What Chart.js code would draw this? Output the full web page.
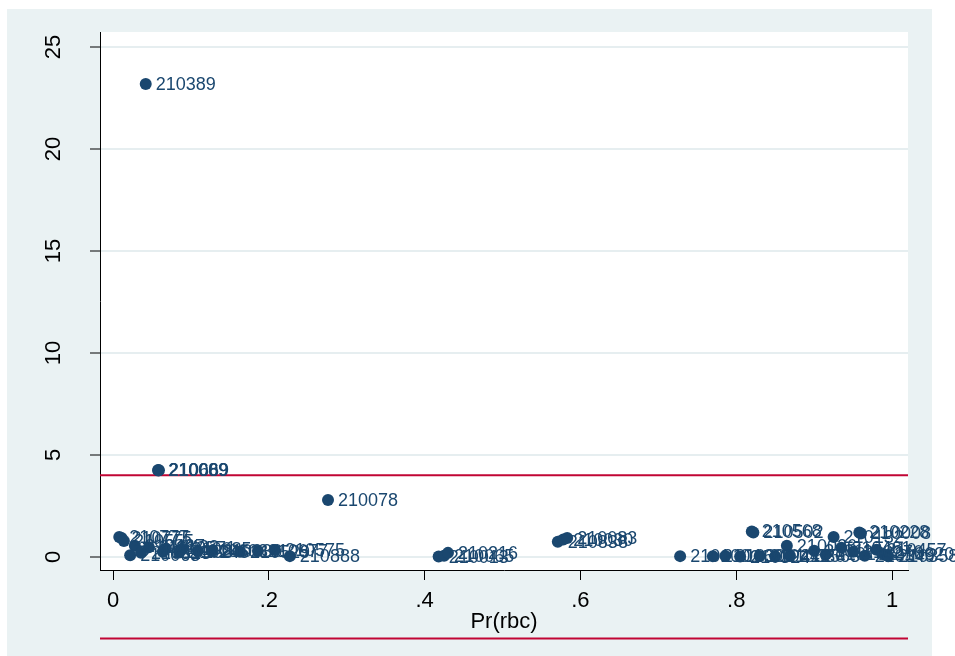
<!DOCTYPE html>
<html>
<head>
<meta charset="utf-8">
<title>Pr(rbc) scatter</title>
<script src="https://cdn.jsdelivr.net/npm/chart.js@4.4.0/dist/chart.umd.min.js"></script>
<style>
    html, body { margin: 0; padding: 0; background: #fff; }
    #wrap { width: 955px; height: 656px; }
</style>
</head>
<body>
<div id="wrap"><canvas id="scatterChart" width="955" height="656"></canvas></div>
<script>
// 数据：每个点的编号、Pr(rbc) 以及纵轴数值
const pointIds = [
    '210389', '210009', '210089', '210669', '210078',
    '210777', '210775', '210555', '210467', '210433', '210571', '210685',
    '210063', '210313', '210188', '210245', '210603', '210336', '210529', '210677', '210575', '210888',
    '210013', '210065', '210216',
    '210838', '210030', '210083',
    '210100', '210160', '210301', '210324', '210441', '210530', '210563',
    '210568', '210502', '210026', '210132', '210228', '210008',
    '210114', '210102', '210461', '210276', '210349', '210457', '210620', '210358'
];
const prRbc = [
    0.042, 0.058, 0.058, 0.059, 0.276,
    0.008, 0.011, 0.014, 0.028, 0.046, 0.068, 0.088,
    0.022, 0.036, 0.064, 0.085, 0.109, 0.127, 0.163, 0.186, 0.208, 0.227,
    0.418, 0.425, 0.430,
    0.571, 0.578, 0.583,
    0.728, 0.770, 0.786, 0.805, 0.830, 0.850, 0.869,
    0.820, 0.822, 0.865, 0.925, 0.958, 0.960,
    0.900, 0.915, 0.935, 0.950, 0.965, 0.980, 0.990, 0.995
];
const yValues = [
    23.19, 4.26, 4.24, 4.25, 2.79,
    0.98, 0.93, 0.78, 0.55, 0.48, 0.42, 0.38,
    0.08, 0.20, 0.25, 0.22, 0.29, 0.30, 0.25, 0.29, 0.34, 0.04,
    0.02, 0.06, 0.20,
    0.75, 0.85, 0.93,
    0.04, 0.03, 0.05, 0.02, 0.05, 0.03, 0.06,
    1.25, 1.20, 0.55, 0.98, 1.20, 1.15,
    0.30, 0.12, 0.45, 0.25, 0.06, 0.35, 0.12, 0.03
];

// 坐标轴刻度
const xTickValues = [0, 0.2, 0.4, 0.6, 0.8, 1];
const xTickLabels = ['0', '.2', '.4', '.6', '.8', '1'];
const yTickValues = [0, 5, 10, 15, 20, 25];
const yTickLabels = ['0', '5', '10', '15', '20', '25'];
// 参考线 (yline)
const refLines = [4, -4];

document.addEventListener('DOMContentLoaded', function() {
    const NAVY = '#1a476f';
    const FONT = "'Liberation Sans', Arial, sans-serif";

    // 背景：外框浅蓝灰，绘图区白色
    const backgroundPlugin = {
        id: 'stataBackground',
        beforeDraw(chart) {
            const { ctx, chartArea } = chart;
            ctx.save();
            ctx.fillStyle = '#ffffff';
            ctx.fillRect(0, 0, chart.width, chart.height);
            ctx.fillStyle = '#eaf2f3';
            ctx.fillRect(7, 9, 925, 647);
            ctx.fillStyle = '#ffffff';
            ctx.fillRect(chartArea.left, chartArea.top, chartArea.right - chartArea.left, chartArea.bottom - chartArea.top);
            ctx.restore();
        }
    };

    // 红色参考线，不裁剪（Stata 会画到绘图区外）
    const refLinePlugin = {
        id: 'refLines',
        beforeDatasetsDraw(chart) {
            const { ctx, chartArea, scales } = chart;
            ctx.save();
            ctx.strokeStyle = '#c10534';
            ctx.lineWidth = 2;
            refLines.forEach(function(v) {
                const y = scales.y.getPixelForValue(v);
                ctx.beginPath();
                ctx.moveTo(chartArea.left, y);
                ctx.lineTo(chartArea.right, y);
                ctx.stroke();
            });
            ctx.restore();
        }
    };

    // 点标签
    const pointLabelPlugin = {
        id: 'pointLabels',
        afterDatasetsDraw(chart) {
            const { ctx } = chart;
            const meta = chart.getDatasetMeta(0);
            ctx.save();
            ctx.fillStyle = NAVY;
            ctx.font = '18px ' + FONT;
            ctx.textAlign = 'left';
            ctx.textBaseline = 'middle';
            meta.data.forEach(function(pt, i) {
                ctx.fillText(pointIds[i], pt.x + 10, pt.y + 1);
            });
            ctx.restore();
        }
    };

    const points = prRbc.map(function(x, i) { return { x: x, y: yValues[i] }; });

    try {
        new Chart(document.getElementById('scatterChart'), {
            type: 'scatter',
            data: {
                datasets: [{
                    data: points,
                    pointRadius: 6,
                    pointHoverRadius: 6,
                    pointBackgroundColor: NAVY,
                    pointBorderColor: NAVY,
                    pointBorderWidth: 0
                }]
            },
            options: {
                responsive: false,
                animation: false,
                events: [],
                layout: { padding: { left: 0, right: 47, top: 32, bottom: 0 } },
                plugins: {
                    legend: { display: false },
                    tooltip: { enabled: false }
                },
                scales: {
                    x: {
                        type: 'linear',
                        min: -0.0167,
                        max: 1.0205,
                        afterBuildTicks: function(scale) {
                            scale.ticks = xTickValues.map(function(v) { return { value: v }; });
                        },
                        afterFit: function(scale) {
                            scale.height = 86;
                            scale.paddingLeft = 0;
                            scale.paddingRight = 0;
                        },
                        grid: {
                            drawOnChartArea: false,
                            tickLength: 10,
                            tickColor: '#000',
                            tickWidth: 1
                        },
                        border: { display: true, color: '#000', width: 1 },
                        ticks: {
                            autoSkip: false,
                            maxRotation: 0,
                            padding: 8,
                            color: '#000',
                            font: { family: FONT, size: 22 },
                            callback: function(value, index) { return xTickLabels[index]; }
                        },
                        title: {
                            display: true,
                            text: 'Pr(rbc)',
                            color: '#000',
                            font: { family: FONT, size: 22 },
                            padding: { top: 0, bottom: 21 }
                        }
                    },
                    y: {
                        type: 'linear',
                        min: -0.64,
                        max: 25.74,
                        afterBuildTicks: function(scale) {
                            scale.ticks = yTickValues.map(function(v) { return { value: v }; });
                        },
                        afterFit: function(scale) {
                            scale.width = 100;
                            scale.paddingTop = 0;
                            scale.paddingBottom = 0;
                        },
                        grid: {
                            color: '#e6eef0',
                            lineWidth: 2,
                            tickLength: 10,
                            tickColor: '#000',
                            tickWidth: 1
                        },
                        border: { display: true, color: '#000', width: 1 },
                        ticks: {
                            autoSkip: false,
                            minRotation: 90,
                            maxRotation: 90,
                            crossAlign: 'center',
                            padding: 24,
                            color: '#000',
                            font: { family: FONT, size: 22 },
                            callback: function(value, index) { return yTickLabels[index]; }
                        }
                    }
                }
            },
            plugins: [backgroundPlugin, refLinePlugin, pointLabelPlugin]
        });
        console.log('scatter chart initialised');
    } catch (error) {
        console.error('chart init failed:', error);
    }
});
</script>
</body>
</html>
